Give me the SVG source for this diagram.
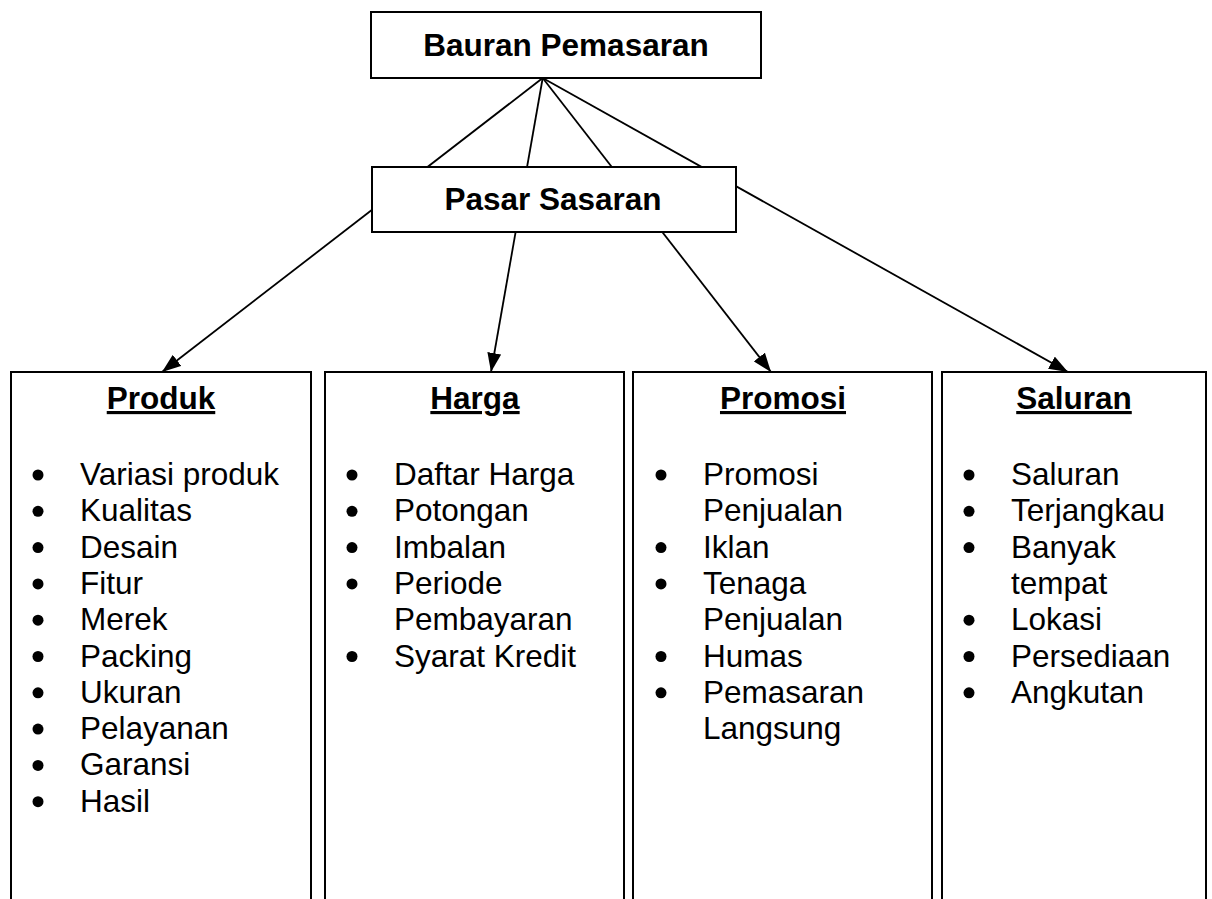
<svg xmlns="http://www.w3.org/2000/svg" width="1212" height="899" viewBox="0 0 1212 899">
  <style>
    .box { fill: #ffffff; stroke: #000000; stroke-width: 2; }
    .link { fill: none; stroke: #000000; stroke-width: 1.8; }
    .title { font-family: "Liberation Sans", Arial, sans-serif; font-size: 31.5px; font-weight: bold; text-anchor: middle; fill: #000000; }
    .head { font-family: "Liberation Sans", Arial, sans-serif; font-size: 31.5px; font-weight: bold; text-anchor: middle; text-decoration: underline; fill: #000000; }
    .item { font-family: "Liberation Sans", Arial, sans-serif; font-size: 31.5px; fill: #000000; }
    .dot { fill: #000000; }
  </style>
  <defs>
    <marker id="arrow" viewBox="0 0 19 14" refX="19" refY="7" markerWidth="19" markerHeight="14" markerUnits="userSpaceOnUse" orient="auto">
      <path d="M0,0 L19,7 L0,14 z" fill="#000000"/>
    </marker>
  </defs>
  <rect width="1212" height="899" fill="#ffffff"/>

  <!-- connectors: all four fan out from the bottom of the top box -->
  <g id="connectors">
    <line class="link" x1="542.7" y1="78" x2="162" y2="372" marker-end="url(#arrow)"/>
    <line class="link" x1="542.7" y1="78" x2="491" y2="372" marker-end="url(#arrow)"/>
    <line class="link" x1="542.7" y1="78" x2="771" y2="372" marker-end="url(#arrow)"/>
    <line class="link" x1="542.7" y1="78" x2="1068" y2="372" marker-end="url(#arrow)"/>
  </g>

  <g id="bauran-pemasaran">
    <rect class="box" x="371" y="12" width="390" height="66"/>
    <text class="title" x="566" y="56">Bauran Pemasaran</text>
  </g>

  <g id="pasar-sasaran">
    <rect class="box" x="372" y="167" width="364" height="65"/>
    <text class="title" x="553" y="210">Pasar Sasaran</text>
  </g>

  <g id="produk">
    <rect class="box" x="11" y="372" width="300" height="540"/>
    <text class="head" x="161" y="409">Produk</text>
    <g class="dot">
      <circle cx="38" cy="475" r="5.5"/>
      <circle cx="38" cy="511.3" r="5.5"/>
      <circle cx="38" cy="547.6" r="5.5"/>
      <circle cx="38" cy="583.9" r="5.5"/>
      <circle cx="38" cy="620.2" r="5.5"/>
      <circle cx="38" cy="656.5" r="5.5"/>
      <circle cx="38" cy="692.8" r="5.5"/>
      <circle cx="38" cy="729.1" r="5.5"/>
      <circle cx="38" cy="765.4" r="5.5"/>
      <circle cx="38" cy="801.7" r="5.5"/>
    </g>
    <text class="item" x="80" y="485">Variasi produk</text>
    <text class="item" x="80" y="521.3">Kualitas</text>
    <text class="item" x="80" y="557.6">Desain</text>
    <text class="item" x="80" y="593.9">Fitur</text>
    <text class="item" x="80" y="630.2">Merek</text>
    <text class="item" x="80" y="666.5">Packing</text>
    <text class="item" x="80" y="702.8">Ukuran</text>
    <text class="item" x="80" y="739.1">Pelayanan</text>
    <text class="item" x="80" y="775.4">Garansi</text>
    <text class="item" x="80" y="811.7">Hasil</text>
  </g>

  <g id="harga">
    <rect class="box" x="325" y="372" width="299" height="540"/>
    <text class="head" x="475" y="409">Harga</text>
    <g class="dot">
      <circle cx="352" cy="475" r="5.5"/>
      <circle cx="352" cy="511.3" r="5.5"/>
      <circle cx="352" cy="547.6" r="5.5"/>
      <circle cx="352" cy="583.9" r="5.5"/>
      <circle cx="352" cy="656.5" r="5.5"/>
    </g>
    <text class="item" x="394" y="485">Daftar Harga</text>
    <text class="item" x="394" y="521.3">Potongan</text>
    <text class="item" x="394" y="557.6">Imbalan</text>
    <text class="item" x="394" y="593.9">Periode</text>
    <text class="item" x="394" y="630.2">Pembayaran</text>
    <text class="item" x="394" y="666.5">Syarat Kredit</text>
  </g>

  <g id="promosi">
    <rect class="box" x="633" y="372" width="299" height="540"/>
    <text class="head" x="783" y="409">Promosi</text>
    <g class="dot">
      <circle cx="661" cy="475" r="5.5"/>
      <circle cx="661" cy="547.6" r="5.5"/>
      <circle cx="661" cy="583.9" r="5.5"/>
      <circle cx="661" cy="656.5" r="5.5"/>
      <circle cx="661" cy="692.8" r="5.5"/>
    </g>
    <text class="item" x="703" y="485">Promosi</text>
    <text class="item" x="703" y="521.3">Penjualan</text>
    <text class="item" x="703" y="557.6">Iklan</text>
    <text class="item" x="703" y="593.9">Tenaga</text>
    <text class="item" x="703" y="630.2">Penjualan</text>
    <text class="item" x="703" y="666.5">Humas</text>
    <text class="item" x="703" y="702.8">Pemasaran</text>
    <text class="item" x="703" y="739.1">Langsung</text>
  </g>

  <g id="saluran">
    <rect class="box" x="942" y="372" width="264" height="540"/>
    <text class="head" x="1074" y="409">Saluran</text>
    <g class="dot">
      <circle cx="969" cy="475" r="5.5"/>
      <circle cx="969" cy="511.3" r="5.5"/>
      <circle cx="969" cy="547.6" r="5.5"/>
      <circle cx="969" cy="620.2" r="5.5"/>
      <circle cx="969" cy="656.5" r="5.5"/>
      <circle cx="969" cy="692.8" r="5.5"/>
    </g>
    <text class="item" x="1011" y="485">Saluran</text>
    <text class="item" x="1011" y="521.3">Terjangkau</text>
    <text class="item" x="1011" y="557.6">Banyak</text>
    <text class="item" x="1011" y="593.9">tempat</text>
    <text class="item" x="1011" y="630.2">Lokasi</text>
    <text class="item" x="1011" y="666.5">Persediaan</text>
    <text class="item" x="1011" y="702.8">Angkutan</text>
  </g>
</svg>
